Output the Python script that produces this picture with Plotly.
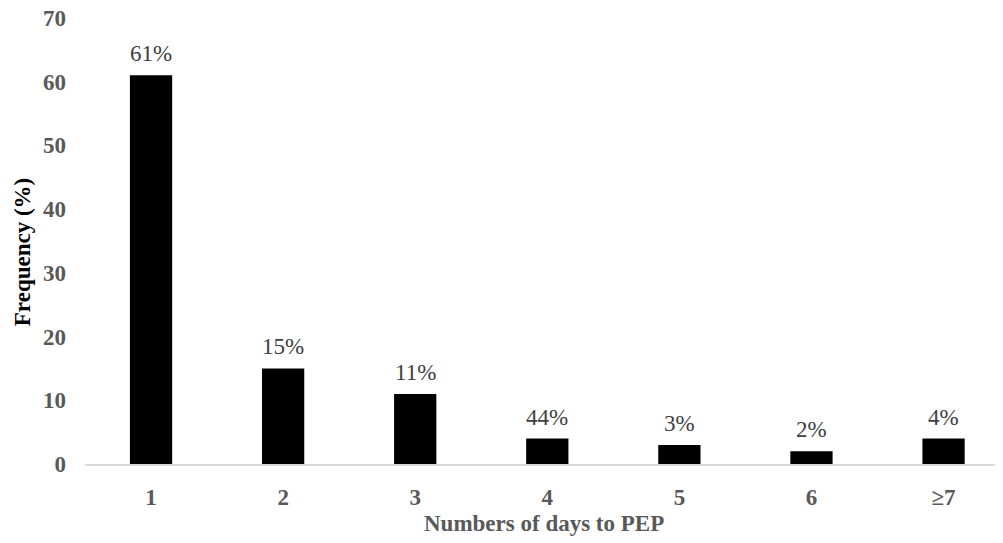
import plotly.graph_objects as go

categories = ["1", "2", "3", "4", "5", "6", "≥7"]
values = [61, 15, 11, 4, 3, 2, 4]
labels = ["61%", "15%", "11%", "44%", "3%", "2%", "4%"]
y_ticks = [0, 10, 20, 30, 40, 50, 60, 70]

FONT = "Liberation Serif, Times New Roman, serif"

fig = go.Figure()
fig.add_trace(go.Bar(
    x=categories, y=values, width=0.32,
    marker=dict(color="black", line=dict(width=0)),
    hoverinfo="skip",
))

for i, (v, t) in enumerate(zip(values, labels)):
    fig.add_annotation(x=i, y=v, text=t, showarrow=False, yanchor="bottom",
                       yshift=7, font=dict(family=FONT, size=23, color="#404040"))

fig.add_annotation(xref="paper", yref="paper", x=-0.0686, y=0.475,
                   xanchor="center", yanchor="middle",
                   text="<b>Frequency (%)</b>", textangle=-90, showarrow=False,
                   font=dict(family=FONT, size=23, color="#000000"))

fig.add_annotation(xref="paper", yref="paper", x=0.5, y=-0.1345,
                   xanchor="center", yanchor="middle",
                   text="<b>Numbers of days to PEP</b>", showarrow=False,
                   font=dict(family=FONT, size=23, color="#595959"))

fig.update_layout(
    width=995, height=535,
    margin=dict(l=77, r=0, t=10, b=79, autoexpand=False),
    paper_bgcolor="white", plot_bgcolor="white",
    showlegend=False,
    font=dict(family=FONT),
    xaxis=dict(
        type="category", range=[-0.5, 6.45], automargin=False,
        showline=True, linecolor="#d9d9d9", linewidth=1.5,
        showgrid=False, ticks="", ticklabelstandoff=12,
        tickfont=dict(family=FONT, size=23, color="#595959", weight="bold"),
    ),
    yaxis=dict(
        range=[0, 70], tickvals=y_ticks, showline=False, showgrid=False,
        automargin=False, ticklabeloverflow="allow",
        zeroline=False, ticks="", ticklabelstandoff=18,
        tickfont=dict(family=FONT, size=23, color="#595959", weight="bold"),
    ),
)

fig.write_html("out.html")
